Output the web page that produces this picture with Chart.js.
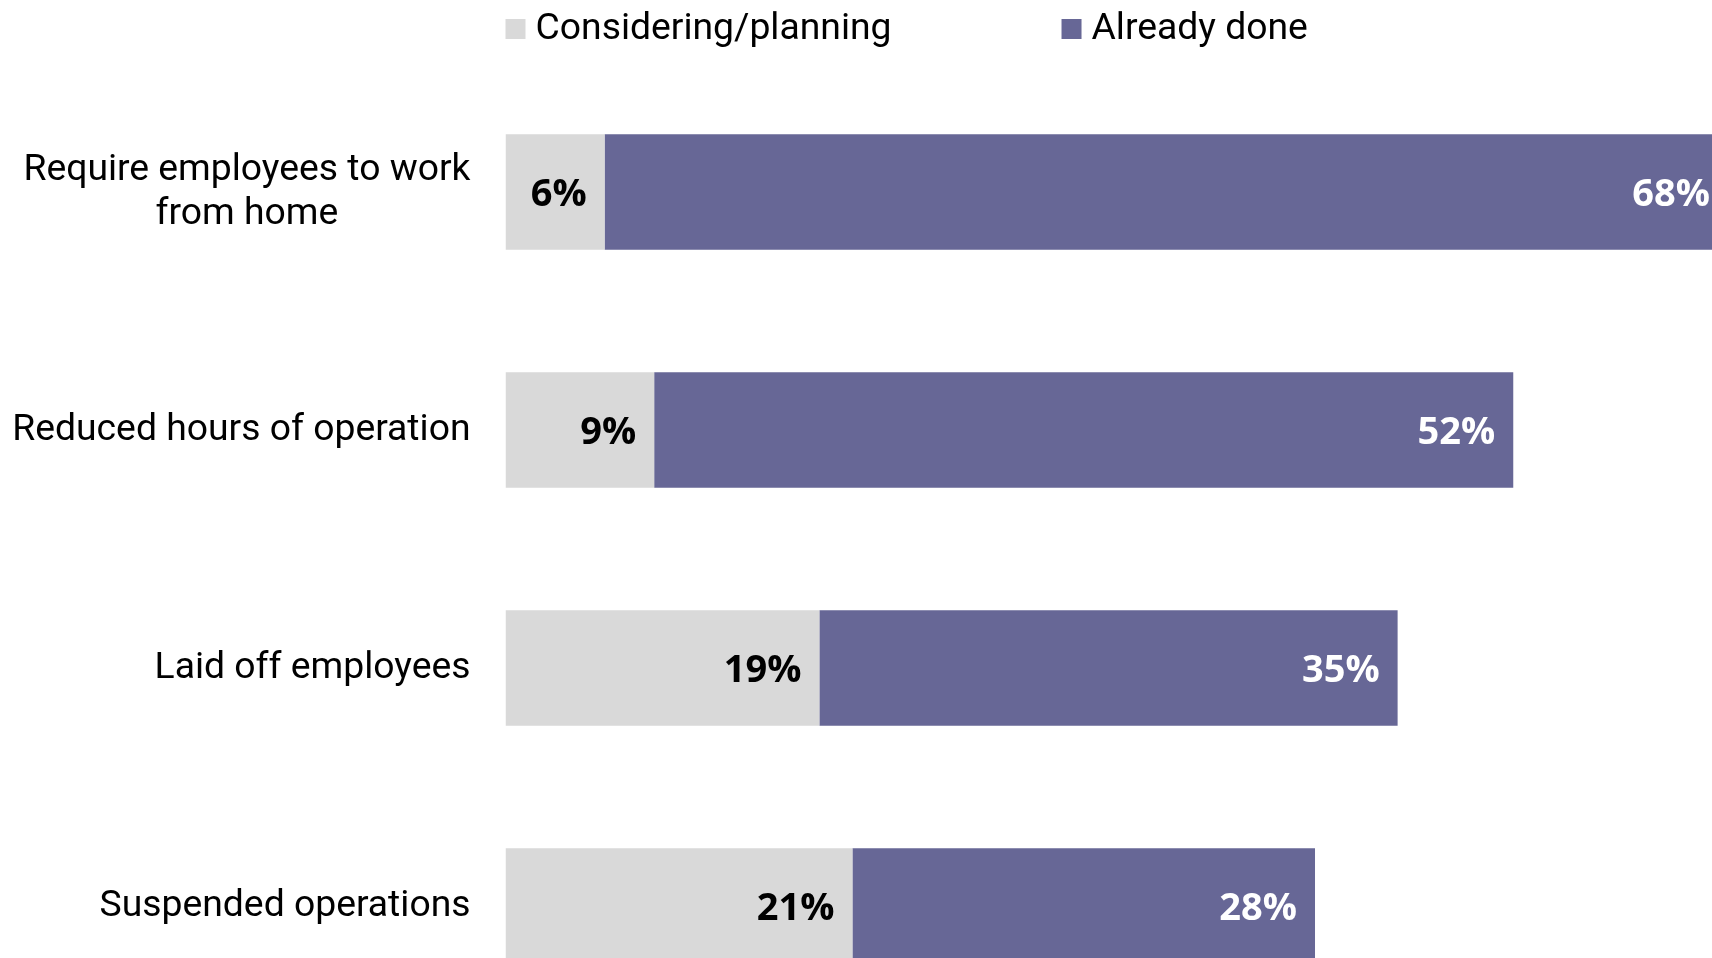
<!DOCTYPE html>
<html>
<head>
<meta charset="utf-8">
<script src="https://cdn.jsdelivr.net/npm/chart.js@4/dist/chart.umd.min.js"></script>
<style>
    html, body { margin: 0; padding: 0; background: #fff; overflow: hidden; }
    #wrap { position: relative; width: 1712px; height: 1025px; }
</style>
</head>
<body>
<div id="wrap"><canvas id="actions-chart"></canvas></div>
<script>
let categories = [
    ['Require employees to work', 'from home'],
    ['Reduced hours of operation'],
    ['Laid off employees'],
    ['Suspended operations']
];
let considering = [6, 9, 19, 21];
let already_done = [68, 52, 35, 28];
let series_names = ['Considering/planning', 'Already done'];
let series_colors = ['#d9d9d9', '#676796'];

// percent labels at the inner end of each bar segment
let segment_labels = {
    id: 'segment_labels',
    afterDatasetsDraw(chart) {
        let ctx = chart.ctx;
        ctx.save();
        ctx.font = 'bold 38px "Open Sans"';
        ctx.textAlign = 'right';
        ctx.textBaseline = 'middle';
        chart.data.datasets.forEach((ds, i) => {
            ctx.fillStyle = i === 0 ? '#000' : '#fff';
            chart.getDatasetMeta(i).data.forEach((bar, j) => {
                ctx.fillText(ds.data[j] + '%', bar.x - 18, bar.y + 3);
            });
        });
        ctx.restore();
    }
};

// category names, block right-aligned, lines centred on each other
let category_labels = {
    id: 'category_labels',
    afterDraw(chart) {
        let ctx = chart.ctx;
        let y_scale = chart.scales.y;
        let right = chart.chartArea.left - 35;
        let line_height = 44;
        ctx.save();
        ctx.font = '37.3px Roboto';
        ctx.fillStyle = '#000';
        ctx.textAlign = 'center';
        ctx.textBaseline = 'middle';
        chart.data.labels.forEach((lines, i) => {
            let widest = Math.max(...lines.map(l => ctx.measureText(l).width));
            let cx = right - widest / 2;
            let cy = y_scale.getPixelForValue(i) - (lines.length - 1) * line_height / 2;
            lines.forEach((l, k) => ctx.fillText(l, cx, cy + k * line_height + 1));
        });
        ctx.restore();
    }
};

let top_legend = {
    id: 'top_legend',
    afterDraw(chart) {
        let ctx = chart.ctx;
        let x = chart.chartArea.left;
        let box = 20;
        ctx.save();
        ctx.font = '37.3px Roboto';
        ctx.textBaseline = 'middle';
        ctx.textAlign = 'left';
        chart.data.datasets.forEach((ds) => {
            ctx.fillStyle = ds.backgroundColor;
            ctx.fillRect(x, 19, box, box);
            ctx.fillStyle = '#000';
            ctx.fillText(ds.label, x + box + 10, 30);
            x += box + 10 + ctx.measureText(ds.label).width + 170;
        });
        ctx.restore();
    }
};

document.addEventListener('DOMContentLoaded', () => {
    let ctx = document.getElementById('actions-chart');
    new Chart(ctx, {
        type: 'bar',
        data: {
            labels: categories,
            datasets: [{
                label: series_names[0],
                data: considering,
                backgroundColor: series_colors[0],
                borderWidth: 0,
            }, {
                label: series_names[1],
                data: already_done,
                backgroundColor: series_colors[1],
                borderWidth: 0,
            }]
        },
        options: {
            indexAxis: 'y',
            responsive: true,
            maintainAspectRatio: false,
            animation: false,
            datasets: {
                bar: { barPercentage: 0.486, categoryPercentage: 1.0 }
            },
            layout: {
                padding: { left: 505.5, top: 73, right: 0, bottom: 0 }
            },
            scales: {
                x: { stacked: true, display: false, min: 0, max: 73.03 },
                y: { stacked: true, display: false }
            },
            plugins: {
                legend: { display: false },
                tooltip: { enabled: false }
            }
        },
        plugins: [segment_labels, category_labels, top_legend]
    });
});
</script>
</body>
</html>
